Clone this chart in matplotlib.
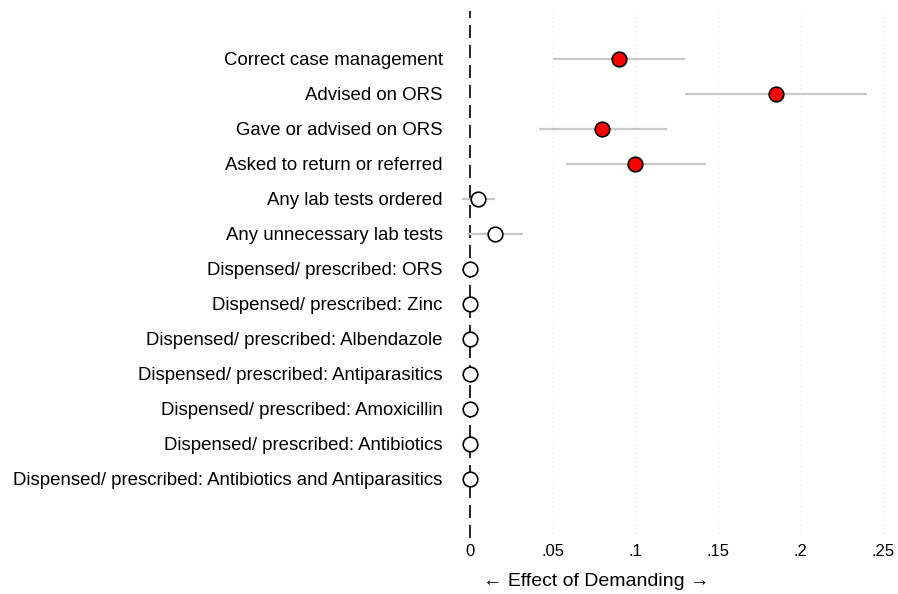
import numpy as np
import matplotlib
matplotlib.use("Agg")
import matplotlib.pyplot as plt

labels = ["Correct case management", "Advised on ORS", "Gave or advised on ORS",
          "Asked to return or referred", "Any lab tests ordered", "Any unnecessary lab tests",
          "Dispensed/ prescribed: ORS", "Dispensed/ prescribed: Zinc",
          "Dispensed/ prescribed: Albendazole", "Dispensed/ prescribed: Antiparasitics",
          "Dispensed/ prescribed: Amoxicillin", "Dispensed/ prescribed: Antibiotics",
          "Dispensed/ prescribed: Antibiotics and Antiparasitics"]
est = [0.090, 0.185, 0.080, 0.100, 0.005, 0.015, 0, 0, 0, 0, 0, 0, 0]
lo = [0.050, 0.130, 0.042, 0.058, -0.005, -0.002, 0, 0, 0, 0, 0, 0, 0]
hi = [0.130, 0.240, 0.119, 0.143, 0.015, 0.032, 0, 0, 0, 0, 0, 0, 0]
signif = [True, True, True, True, False, False, False, False, False, False, False, False, False]
xticks = [0, 0.05, 0.1, 0.15, 0.2, 0.25]
xticklabels = ["0", ".05", ".1", ".15", ".2", ".25"]

plt.rcParams['font.family'] = ['Liberation Sans', 'DejaVu Sans']

fig = plt.figure(figsize=(8.98, 5.94), dpi=100)
ax = fig.add_axes([455/898, 56/594, 435/898, 527/594])

y = np.arange(len(labels))
for g in xticks[1:]:
    ax.axvline(g, color="#e4e4e4", lw=0.8, ls=(0, (1, 3)), zorder=0)
ax.axvline(0, color="black", lw=1.2, ls=(0, (7.8, 4.2)), zorder=1)

ax.hlines(y, lo, hi, color="#c8c8c8", lw=1.6, zorder=2)
for i in range(len(labels)):
    fc = "red" if signif[i] else "white"
    ax.plot(est[i], y[i], "o", ms=10.5, mfc=fc, mec="black", mew=1.2, zorder=3)

ax.set_xlim(-0.0091, 0.2542)
ax.set_ylim(len(labels) - 1 + 1.69, -1.37)
ax.set_yticks(y)
ax.set_yticklabels(labels, fontsize=13.4)
ax.set_xticks(xticks)
ax.set_xticklabels(xticklabels, fontsize=12)
ax.tick_params(length=0, axis="y", pad=9)
ax.tick_params(length=0, axis="x", pad=4)
for s in ax.spines.values():
    s.set_visible(False)
ax.set_xlabel("← Effect of Demanding →", fontsize=14, va="center")
ax.xaxis.set_label_coords((596 - 455) / 435, -(581 - 538) / 527)

fig.savefig("out.png", dpi=100)
